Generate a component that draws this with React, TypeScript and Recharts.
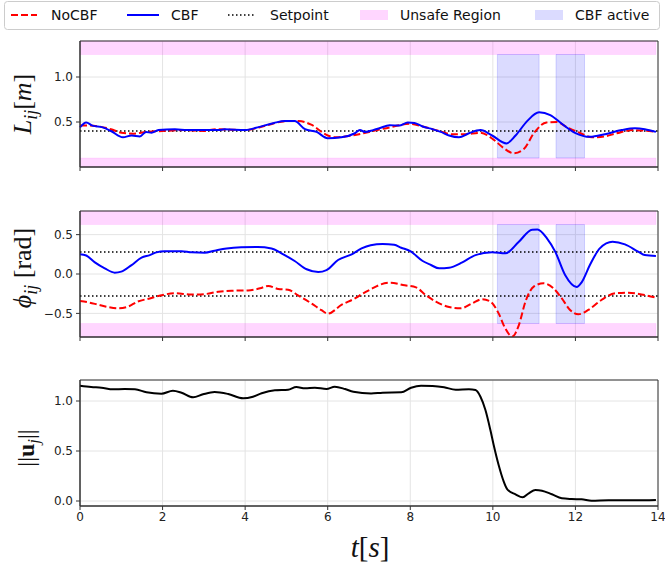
import { CartesianGrid, Line, LineChart, ReferenceArea, ReferenceLine, XAxis, YAxis } from 'recharts';

// ---------------------------------------------------------------------------
// Data
// ---------------------------------------------------------------------------

const xTicks = [0, 2, 4, 6, 8, 10, 12, 14];
const cbfActive: Array<[number, number]> = [
  [10.11, 11.12],
  [11.53, 12.22],
];
const tEnd = 13.95;

// distance L_ij
const tLcbf = [0, 0.15, 0.3, 0.55, 0.75, 1.04, 1.25, 1.45, 1.6, 1.73, 1.9, 2.3, 2.6, 3.0, 3.35, 3.5, 4.0, 4.3, 4.7, 4.96, 5.2, 5.45, 5.73, 6.0, 6.33, 6.66, 6.78, 6.9, 7.1, 7.25, 7.5, 7.73, 7.94, 8.1, 8.3, 8.54, 8.74, 8.94, 9.18, 9.42, 9.7, 9.98, 10.33, 10.55, 10.83, 11.12, 11.39, 11.67, 11.99, 12.35, 12.72, 13.12, 13.44, 13.68, 13.95];
const Lcbf = [0.44, 0.495, 0.46, 0.44, 0.4, 0.33, 0.35, 0.34, 0.39, 0.38, 0.41, 0.42, 0.41, 0.41, 0.41, 0.42, 0.41, 0.44, 0.49, 0.51, 0.51, 0.42, 0.39, 0.32, 0.33, 0.375, 0.41, 0.39, 0.41, 0.43, 0.465, 0.46, 0.495, 0.49, 0.45, 0.42, 0.39, 0.35, 0.33, 0.375, 0.41, 0.35, 0.262, 0.35, 0.51, 0.607, 0.577, 0.48, 0.38, 0.335, 0.365, 0.41, 0.43, 0.42, 0.39];
const tLnocbf = [0, 0.2, 0.75, 1.0, 1.3, 1.6, 2.0, 2.5, 3.0, 3.3, 4.0, 4.5, 5.0, 5.3, 5.6, 6.0, 6.2, 6.6, 7.0, 7.5, 8.0, 8.3, 8.7, 9.0, 9.3, 9.7, 10.0, 10.25, 10.5, 10.75, 11.0, 11.3, 11.55, 11.8, 12.1, 12.4, 12.7, 13.0, 13.4, 13.95];
const Lnocbf = [0.46, 0.46, 0.42, 0.38, 0.37, 0.39, 0.4, 0.41, 0.4, 0.42, 0.41, 0.46, 0.51, 0.51, 0.47, 0.35, 0.33, 0.35, 0.39, 0.44, 0.48, 0.45, 0.4, 0.365, 0.365, 0.38, 0.31, 0.215, 0.153, 0.2, 0.38, 0.495, 0.5, 0.44, 0.38, 0.33, 0.34, 0.375, 0.41, 0.39];

// bearing phi_ij
const tPcbf = [0, 0.15, 0.36, 0.6, 0.84, 1.0, 1.24, 1.49, 1.69, 1.85, 2.05, 2.46, 2.7, 3.02, 3.26, 3.55, 3.9, 4.3, 4.64, 4.88, 5.2, 5.49, 5.77, 5.97, 6.25, 6.58, 6.82, 7.04, 7.33, 7.61, 7.78, 8.0, 8.3, 8.5, 8.7, 8.94, 9.26, 9.58, 9.98, 10.3, 10.63, 10.95, 11.08, 11.31, 11.51, 11.75, 12.03, 12.15, 12.35, 12.59, 12.9, 13.2, 13.52, 13.68, 13.95];
const Pcbf = [0.25, 0.235, 0.148, 0.072, 0.017, 0.03, 0.11, 0.207, 0.24, 0.275, 0.29, 0.29, 0.275, 0.27, 0.296, 0.325, 0.34, 0.343, 0.325, 0.262, 0.165, 0.06, 0.025, 0.05, 0.178, 0.25, 0.325, 0.365, 0.38, 0.37, 0.334, 0.29, 0.165, 0.114, 0.072, 0.08, 0.148, 0.24, 0.275, 0.262, 0.41, 0.563, 0.565, 0.453, 0.284, -0.013, -0.165, -0.106, 0.114, 0.326, 0.41, 0.377, 0.284, 0.24, 0.229];
const tPnocbf = [0, 0.2, 0.44, 0.68, 0.92, 1.16, 1.4, 1.69, 1.97, 2.3, 2.7, 3.02, 3.35, 3.67, 4.07, 4.36, 4.56, 4.8, 5.04, 5.28, 5.6, 5.85, 6.0, 6.34, 6.66, 6.86, 7.06, 7.25, 7.53, 7.82, 8.14, 8.38, 8.62, 8.94, 9.22, 9.5, 9.74, 9.94, 10.14, 10.3, 10.47, 10.63, 10.79, 10.99, 11.23, 11.47, 11.67, 11.87, 12.07, 12.31, 12.63, 12.96, 13.28, 13.6, 13.95];
const Pnocbf = [-0.343, -0.36, -0.39, -0.42, -0.436, -0.415, -0.35, -0.31, -0.27, -0.245, -0.26, -0.255, -0.225, -0.212, -0.208, -0.182, -0.152, -0.19, -0.2, -0.27, -0.372, -0.46, -0.504, -0.39, -0.31, -0.245, -0.19, -0.14, -0.11, -0.14, -0.17, -0.27, -0.35, -0.42, -0.436, -0.372, -0.32, -0.35, -0.5, -0.69, -0.795, -0.648, -0.35, -0.16, -0.118, -0.182, -0.31, -0.457, -0.512, -0.457, -0.33, -0.245, -0.237, -0.26, -0.3];

// control norm ||u_j||
const tU = [0, 0.27, 0.52, 0.8, 1.08, 1.33, 1.61, 1.97, 2.25, 2.46, 2.74, 2.98, 3.26, 3.59, 3.95, 4.19, 4.4, 4.72, 5.04, 5.24, 5.45, 5.69, 5.97, 6.17, 6.42, 6.62, 7.05, 7.33, 7.78, 8.02, 8.26, 8.54, 8.82, 9.1, 9.42, 9.58, 9.7, 9.82, 9.94, 10.02, 10.14, 10.25, 10.35, 10.55, 10.72, 10.87, 11.03, 11.19, 11.43, 11.67, 11.91, 12.15, 12.39, 12.8, 13.44, 13.95];
const U = [1.153, 1.14, 1.133, 1.117, 1.12, 1.117, 1.087, 1.073, 1.103, 1.083, 1.037, 1.067, 1.09, 1.07, 1.027, 1.043, 1.077, 1.107, 1.113, 1.14, 1.127, 1.133, 1.12, 1.143, 1.12, 1.093, 1.075, 1.083, 1.087, 1.133, 1.153, 1.15, 1.137, 1.113, 1.117, 1.11, 1.043, 0.91, 0.71, 0.56, 0.36, 0.21, 0.117, 0.067, 0.037, 0.077, 0.11, 0.103, 0.067, 0.027, 0.02, 0.017, 0.003, 0.007, 0.007, 0.01];

const zip = (ts: number[], vs: number[]) => ts.map((t, i) => ({ t, v: vs[i] }));

// ---------------------------------------------------------------------------
// Styles
// ---------------------------------------------------------------------------

const W = 665;
const SANS = "'DejaVu Sans', sans-serif";
const SERIF = "'Liberation Serif', 'DejaVu Serif', serif";
const SPINE = '#333';
const GRID = '#e4e4e4';
const PINK = '#ff00ff';
const PINK_OP = 0.16;
const CBF_FILL = '#0000ff';
const fmt = (v: number) => v.toFixed(1).replace('-', '\u2212');
const tickStyle = { fontSize: 12, fontFamily: SANS, fill: '#222' };

function axes(domain: [number, number], yTicks: number[], xh: number, showX: boolean) {
  return [
    <CartesianGrid key="g" stroke={GRID} strokeWidth={1} />,
    <XAxis
      key="x"
      dataKey="t"
      type="number"
      domain={[0, 14]}
      ticks={xTicks}
      height={xh}
      tickSize={4}
      tickMargin={2}
      stroke={SPINE}
      tick={tickStyle}
      tickFormatter={showX ? (v: number) => String(v) : () => ''}
      allowDuplicatedCategory={false}
    />,
    <YAxis
      key="y"
      type="number"
      domain={domain}
      ticks={yTicks}
      width={80}
      tickSize={4}
      tickMargin={3}
      stroke={SPINE}
      tick={tickStyle}
      tickFormatter={fmt}
      allowDataOverflow
    />,
  ];
}

function frame(domain: [number, number]) {
  return (
    <ReferenceArea
      x1={0}
      x2={14}
      y1={domain[0]}
      y2={domain[1]}
      fill="none"
      stroke={SPINE}
      strokeWidth={1}
    />
  );
}

function unsafe(lo: number, hi: number, domain: [number, number]) {
  return [
    <ReferenceArea key="u1" x1={0} x2={tEnd} y1={hi} y2={domain[1]} fill={PINK} fillOpacity={PINK_OP} stroke={PINK} strokeOpacity={0.08} />,
    <ReferenceArea key="u2" x1={0} x2={tEnd} y1={domain[0]} y2={lo} fill={PINK} fillOpacity={PINK_OP} stroke={PINK} strokeOpacity={0.08} />,
  ];
}

function active(lo: number, hi: number) {
  return cbfActive.map(([a, b], i) => (
    <ReferenceArea
      key={'a' + i}
      x1={a}
      x2={b}
      y1={lo}
      y2={hi}
      fill={CBF_FILL}
      fillOpacity={0.14}
      stroke={CBF_FILL}
      strokeOpacity={0.15}
    />
  ));
}

function setpoint(y: number, k: string) {
  return <ReferenceLine key={k} y={y} stroke="#000" strokeWidth={1.5} strokeDasharray="1.5 2.5" />;
}

const cbfLine = (data: Array<{ t: number; v: number }>) => (
  <Line data={data} dataKey="v" type="monotone" stroke="#0000ff" strokeWidth={2} dot={false} isAnimationActive={false} />
);
const noLine = (data: Array<{ t: number; v: number }>) => (
  <Line data={data} dataKey="v" type="monotone" stroke="#ff0000" strokeWidth={2} strokeDasharray="7 3" dot={false} isAnimationActive={false} />
);

// ---------------------------------------------------------------------------
// Overlay texts (legend, axis labels)
// ---------------------------------------------------------------------------

function Overlay() {
  const ty = 15;
  return (
    <svg width={W} height={565} style={{ position: 'absolute', left: 0, top: 0, pointerEvents: 'none' }}>
      <rect x={4.5} y={1.5} width={655} height={28} rx={3} fill="#fff" fillOpacity={0.85} stroke="#cccccc" />
      <line x1={11} x2={37} y1={ty} y2={ty} stroke="#ff0000" strokeWidth={2} strokeDasharray="7 3" />
      <text x={51} y={ty} dy="0.35em" fontFamily={SANS} fontSize={14} fill="#111">NoCBF</text>
      <line x1={127} x2={159} y1={ty} y2={ty} stroke="#0000ff" strokeWidth={2} />
      <text x={171} y={ty} dy="0.35em" fontFamily={SANS} fontSize={14} fill="#111">CBF</text>
      <line x1={228} x2={254} y1={ty} y2={ty} stroke="#000" strokeWidth={1.5} strokeDasharray="1.5 2.5" />
      <text x={270} y={ty} dy="0.35em" fontFamily={SANS} fontSize={14} fill="#111">Setpoint</text>
      <rect x={360} y={10} width={28} height={10} fill={PINK} fillOpacity={PINK_OP} />
      <text x={400} y={ty} dy="0.35em" fontFamily={SANS} fontSize={14} fill="#111">Unsafe Region</text>
      <rect x={535} y={10} width={28} height={10} fill={CBF_FILL} fillOpacity={0.14} />
      <text x={575} y={ty} dy="0.35em" fontFamily={SANS} fontSize={14} fill="#111">CBF active</text>

      <text transform="rotate(-90, 31, 104)" x={31} y={104} textAnchor="middle" fontFamily={SERIF} fontSize={26} fill="#111">
        <tspan fontStyle="italic">L</tspan>
        <tspan fontStyle="italic" fontSize={18} dy={6}>ij</tspan>
        <tspan dy={-6}>[</tspan>
        <tspan fontStyle="italic">m</tspan>
        <tspan>]</tspan>
      </text>
      <text transform="rotate(-90, 31, 268)" x={31} y={268} textAnchor="middle" fontFamily={SERIF} fontSize={26} fill="#111">
        <tspan fontStyle="italic">{'\u03d5'}</tspan>
        <tspan fontStyle="italic" fontSize={18} dy={6}>ij</tspan>
        <tspan dy={-6}> [rad]</tspan>
      </text>
      <text transform="rotate(-90, 34, 448)" x={34} y={448} textAnchor="middle" fontFamily={SERIF} fontSize={24} fill="#111">
        <tspan>||</tspan>
        <tspan fontWeight="bold">u</tspan>
        <tspan fontStyle="italic" fontSize={17} dy={5}>j</tspan>
        <tspan dy={-5}>||</tspan>
      </text>
      <text x={370} y={557} textAnchor="middle" fontFamily={SERIF} fontSize={29} fill="#111">
        <tspan fontStyle="italic">t</tspan>
        <tspan>[</tspan>
        <tspan fontStyle="italic">s</tspan>
        <tspan>]</tspan>
      </text>
    </svg>
  );
}

// ---------------------------------------------------------------------------
// App
// ---------------------------------------------------------------------------

export default function App() {
  const d1: [number, number] = [0, 1.4];
  const d2: [number, number] = [-0.8, 0.8];
  const d3: [number, number] = [-0.05, 1.21];
  const m = { top: 41, right: 7, bottom: 0, left: 0 };
  return (
    <div style={{ position: 'absolute', left: 0, top: 0, width: W, height: 565, background: '#fff' }}>
      <div style={{ position: 'absolute', left: 0, top: 0 }}>
        <LineChart width={W} height={173} margin={m}>
          {axes(d1, [0, 0.5, 1.0], 6, false)}
          {unsafe(0.1, 1.25, d1)}
          {active(0.1, 1.25)}
          {setpoint(0.4, 's1')}
          {noLine(zip(tLnocbf, Lnocbf))}
          {cbfLine(zip(tLcbf, Lcbf))}
          {frame(d1)}
        </LineChart>
      </div>
      <div style={{ position: 'absolute', left: 0, top: 170 }}>
        <LineChart width={W} height={173} margin={m}>
          {axes(d2, [-0.5, 0, 0.5], 6, false)}
          {unsafe(-0.628, 0.628, d2)}
          {active(-0.628, 0.628)}
          {setpoint(0.28, 's2')}
          {setpoint(-0.28, 's3')}
          {noLine(zip(tPnocbf, Pnocbf))}
          {cbfLine(zip(tPcbf, Pcbf))}
          {frame(d2)}
        </LineChart>
      </div>
      <div style={{ position: 'absolute', left: 0, top: 339 }}>
        <LineChart width={W} height={226} margin={m}>
          {axes(d3, [0, 0.5, 1.0], 59, true)}
          <Line data={zip(tU, U)} dataKey="v" type="monotone" stroke="#000" strokeWidth={2} dot={false} isAnimationActive={false} />
          {frame(d3)}
        </LineChart>
      </div>
      <Overlay />
    </div>
  );
}
